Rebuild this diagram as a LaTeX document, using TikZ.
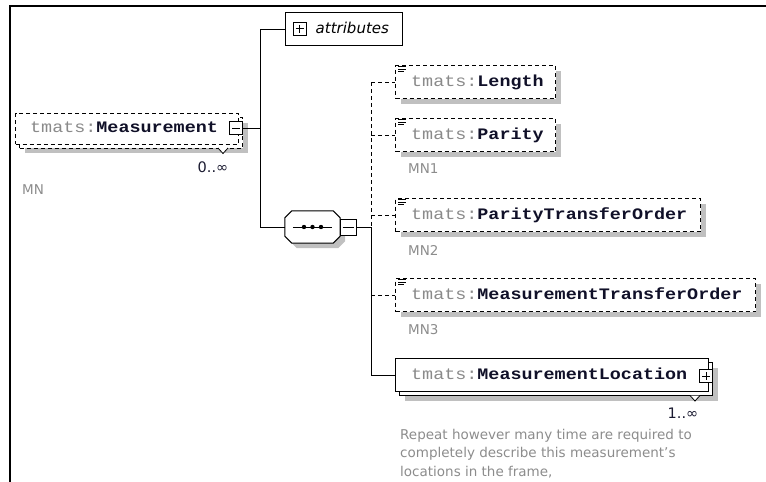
\documentclass[tikz,border=0pt]{standalone}
\usepackage{fontspec}
\usepackage{graphicx}
\usetikzlibrary{shadows}
\setmainfont{DejaVu Sans}
\newfontfamily\monofont{Liberation Mono}
\definecolor{pfxgray}{HTML}{8A8A8A}
\definecolor{namecol}{HTML}{101028}
\definecolor{notegray}{HTML}{8C8C8C}
\definecolor{shadowgray}{HTML}{C0C0C0}
\definecolor{cardcol}{HTML}{1A1A30}

% qualified element name: grey prefix, bold name, wide monospaced
\newcommand{\qname}[1]{\scalebox{1.15}[1]{\monofont\fontsize{16}{16}\selectfont\textcolor{pfxgray}{tmats:}\textcolor{namecol}{\bfseries #1}}}
% small "simple content" glyph on the top left corner of a box
\newcommand{\simplemark}[1]{%
  \draw[line width=0.8pt] ([shift={(3,1.5)}]#1.north west) -- ++(8,0);
  \draw[line width=0.8pt] ([shift={(3,4)}]#1.north west) -- ++(8,0);
  \draw[line width=0.8pt] ([shift={(3,6.5)}]#1.north west) -- ++(6,0);}
% minus / plus signs inside an expand button
\newcommand{\minussign}[1]{\draw[line width=1pt] ([xshift=3pt]#1.west) -- ([xshift=-3pt]#1.east);}
\newcommand{\plussign}[1]{\minussign{#1}\draw[line width=1pt] ([yshift=-3pt]#1.north) -- ([yshift=3pt]#1.south);}

\begin{document}
\begin{tikzpicture}[x=1pt,y=-1pt,
  box/.style={draw, line width=1pt, fill=white, inner sep=0pt, anchor=north west},
  optbox/.style={box, dash pattern=on 4pt off 3pt},
  shad/.style={general shadow={fill=shadowgray, shadow xshift=5pt, shadow yshift=-5pt}},
  btn/.style={draw, fill=white, line width=1pt, minimum width=13pt, minimum height=13pt, inner sep=0pt},
  conn/.style={line width=1pt},
  optconn/.style={line width=1pt, dash pattern=on 4pt off 3pt},
  qtext/.style={anchor=base west, inner sep=0pt},
  note/.style={anchor=west, inner sep=0pt, text=notegray, font=\fontsize{13.5}{18.5}\selectfont},
  card/.style={inner sep=0pt, text=cardcol, font=\fontsize{14.5}{14.5}\selectfont},
  rep/.style={draw, fill=white, line width=0.8pt}
]
\useasboundingbox (0,0) rectangle (766,482);

% frame edges
\draw[line width=2.5pt] (766,6) -- (10,6) -- (10,482);

% ---- root element (repeated, optional) ----
\node[optbox, shad, minimum width=223pt, minimum height=30.5pt] (measB) at (19,117) {};
\node[optbox, minimum width=223pt, minimum height=30.5pt] (meas) at (15,113) {};
\node[qtext] (measT) at (30,132.5) {\qname{Measurement}};
\node[btn] (measBtn) at (236,128) {};
\minussign{measBtn}
\draw[rep] (218,148) -- (223,153.5) -- (228,148);
\node[card] (measCard) at (213,167) {0..∞};
\node[note] (measNote) at (22,190) {MN};

% ---- attributes ----
\node[box, line width=1.4pt, minimum width=117pt, minimum height=33pt] (attr) at (285,12) {};
\node[btn] (attrBtn) at (299.5,28.5) {};
\plussign{attrBtn}
\node[anchor=base west, inner sep=0pt, font=\fontsize{15}{15}\selectfont\itshape] (attrT) at (315.5,33.5) {attributes};

% ---- sequence compositor ----
\node[minimum width=55pt, minimum height=32pt, inner sep=0pt] (seq) at (312.5,227) {};
\begin{scope}[transform canvas={shift={(5pt,-5pt)}}]
\fill[shadowgray] ([shift={(7,0)}]seq.north west) -- ([shift={(-7,0)}]seq.north east) -- ([shift={(0,7)}]seq.north east) -- ([shift={(0,-7)}]seq.south east) -- ([shift={(-7,0)}]seq.south east) -- ([shift={(7,0)}]seq.south west) -- ([shift={(0,-7)}]seq.south west) -- ([shift={(0,7)}]seq.north west) -- cycle;
\end{scope}
\draw[fill=white, line width=1pt] ([shift={(7,0)}]seq.north west) -- ([shift={(-7,0)}]seq.north east) -- ([shift={(0,7)}]seq.north east) -- ([shift={(0,-7)}]seq.south east) -- ([shift={(-7,0)}]seq.south east) -- ([shift={(7,0)}]seq.south west) -- ([shift={(0,-7)}]seq.south west) -- ([shift={(0,7)}]seq.north west) -- cycle;
\draw[line width=1pt] ([xshift=8pt]seq.west) -- ([xshift=-8pt]seq.east);
\foreach \dx in {-8.5,0,8.5}
  \fill ([xshift=\dx pt]seq.center) circle (2.2pt);
\node[btn, minimum width=16pt, minimum height=16pt] (seqBtn) at (348,227) {};
\minussign{seqBtn}

% ---- child elements ----
\node[optbox, shad, minimum width=160pt, minimum height=33pt] (len) at (395,65) {};
\simplemark{len}
\node[qtext] (lenT) at (411,86.5) {\qname{Length}};

\node[optbox, shad, minimum width=160pt, minimum height=33pt] (par) at (395,118) {};
\simplemark{par}
\node[qtext] (parT) at (411,139.5) {\qname{Parity}};
\node[note] (parNote) at (408,169) {MN1};

\node[optbox, shad, minimum width=305pt, minimum height=33pt] (pto) at (395,198) {};
\simplemark{pto}
\node[qtext] (ptoT) at (411,219.5) {\qname{ParityTransferOrder}};
\node[note] (ptoNote) at (408,250) {MN2};

\node[optbox, shad, minimum width=360pt, minimum height=33pt] (mto) at (395,278) {};
\simplemark{mto}
\node[qtext] (mtoT) at (411,299.5) {\qname{MeasurementTransferOrder}};
\node[note] (mtoNote) at (408,330) {MN3};

\node[box, shad, minimum width=313pt, minimum height=33pt] (locB) at (399,362) {};
\node[box, minimum width=313pt, minimum height=33pt] (loc) at (395,358) {};
\node[qtext] (locT) at (411,379.5) {\qname{MeasurementLocation}};
\node[btn] (locBtn) at (706,376) {};
\plussign{locBtn}
\draw[rep] (690,395.5) -- (695,401) -- (700,395.5);
\node[card] (locCard) at (683,413) {1..∞};
\node[anchor=north west, inner sep=0pt, text=notegray, align=left, font=\fontsize{13.5}{18.5}\selectfont] (locNote) at (400,429)
  {Repeat however many time are required to\\completely describe this measurement's\\locations in the frame,};

% ---- connectors ----
\coordinate (trkA) at (260,0);
\coordinate (trkB) at (371,0);
\draw[conn] (measBtn.east) -- (measBtn.east -| trkA);
\draw[conn] (attr.west -| trkA) -- (seq.west -| trkA);
\draw[conn] (attr.west -| trkA) -- (attr.west);
\draw[conn] (seq.west -| trkA) -- (seq.west);
\draw[conn] (seqBtn.east) -- (seqBtn.east -| trkB);
\draw[optconn] (len.west -| trkB) -- (seqBtn.east -| trkB);
\draw[conn] (seqBtn.east -| trkB) -- (loc.west -| trkB);
\draw[optconn] (len.west -| trkB) -- (len.west);
\draw[optconn] (par.west -| trkB) -- (par.west);
\draw[optconn] (pto.west -| trkB) -- (pto.west);
\draw[optconn] (mto.west -| trkB) -- (mto.west);
\draw[conn] (loc.west -| trkB) -- (loc.west);
\end{tikzpicture}
\end{document}
